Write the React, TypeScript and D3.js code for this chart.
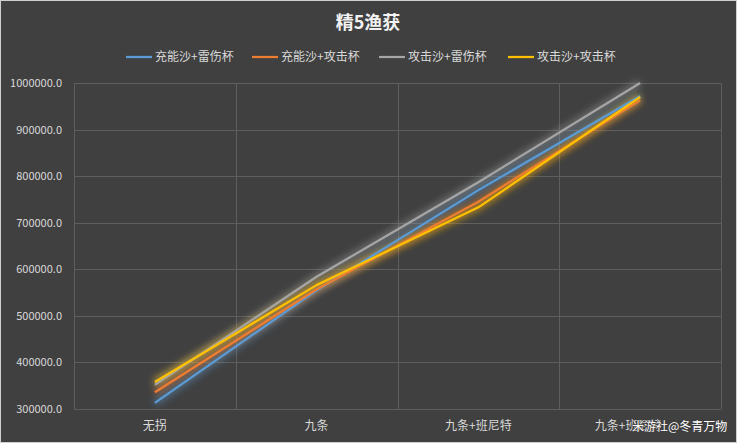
import React from "react";
import * as d3 from "d3";

const categories = ["无拐", "九条", "九条+班尼特", "九条+班尼特"];
const seriesNames = ["充能沙+雷伤杯", "充能沙+攻击杯", "攻击沙+雷伤杯", "攻击沙+攻击杯"];
const seriesColors = ["#5b9bd5", "#ed7d31", "#a5a5a5", "#ffc000"];
const blueValues = [313000, 555000, 770000, 972000];
const orangeValues = [336000, 557000, 745000, 963000];
const grayValues = [352000, 584000, 787000, 1000000];
const yellowValues = [358000, 566000, 733000, 970000];
const seriesValues = [blueValues, orangeValues, grayValues, yellowValues];
const yTicks = [300000, 400000, 500000, 600000, 700000, 800000, 900000, 1000000];
const title = "精5渔获";
const watermark = "米游社@冬青万物";

const W = 737;
const H = 443;
const left = 74;
const right = 721;
const top = 83;
const bottom = 409;
const font = "'Noto Sans CJK SC', 'Noto Sans', sans-serif";

export default function App() {
  const x = d3.scaleBand<number>().domain(categories.map((_, i) => i)).range([left, right]).padding(0);
  const y = d3.scaleLinear().domain([300000, 1000000]).range([bottom, top]);
  const line = d3
    .line<number>()
    .x((_, i) => (x(i) as number) + x.bandwidth() / 2)
    .y((v) => y(v));
  const vLines = [...categories.map((_, i) => x(i) as number), right];
  const legendX = [126, 252, 379, 508];

  return (
    <div style={{ position: "fixed", left: 0, top: 0 }}>
      <svg width={W} height={H} style={{ display: "block" }}>
        <defs>
          <filter id="glow" x="-20%" y="-20%" width="140%" height="140%">
            <feGaussianBlur stdDeviation="3.5" />
          </filter>
        </defs>
        <rect x={0.5} y={0.5} width={W - 1} height={H - 1} fill="#404040" stroke="#cfcfcf" strokeWidth={1} />
        {yTicks.map((t) => (
          <line key={"h" + t} x1={left} x2={right} y1={Math.round(y(t)) + 0.5} y2={Math.round(y(t)) + 0.5} stroke="#5e5e5e" strokeWidth={1} />
        ))}
        {vLines.map((v, i) => (
          <line key={"v" + i} x1={Math.round(v) + 0.5} x2={Math.round(v) + 0.5} y1={top} y2={bottom} stroke="#5e5e5e" strokeWidth={1} />
        ))}
        {yTicks.map((t) => (
          <text key={"yl" + t} x={62} y={y(t) + 4} textAnchor="end" fontSize={11} fill="#d9d9d9" fontFamily={font}>
            {t.toFixed(1)}
          </text>
        ))}
        {categories.map((c, i) => (
          <text
            key={"xl" + i}
            x={(x(i) as number) + x.bandwidth() / 2 + (i === categories.length - 1 ? -12 : 0)}
            y={430}
            textAnchor="middle"
            fontSize={12}
            fill="#d9d9d9"
            fontFamily={font}
          >
            {c}
          </text>
        ))}
        {seriesValues.map((vals, si) => (
          <path key={"g" + si} d={line(vals) || ""} fill="none" stroke={seriesColors[si]} strokeWidth={7} strokeOpacity={0.45} filter="url(#glow)" />
        ))}
        {seriesValues.map((vals, si) => (
          <path key={"s" + si} d={line(vals) || ""} fill="none" stroke={seriesColors[si]} strokeWidth={2.25} strokeLinejoin="round" />
        ))}
        <text x={368} y={29} textAnchor="middle" fontSize={18} fontWeight="bold" fill="#f2f2f2" fontFamily={font}>
          {title}
        </text>
        {seriesNames.map((n, i) => (
          <g key={"lg" + i}>
            <line x1={legendX[i]} x2={legendX[i] + 26} y1={57} y2={57} stroke={seriesColors[i]} strokeWidth={2.25} />
            <text x={legendX[i] + 29} y={61} fontSize={12} fill="#d9d9d9" fontFamily={font}>
              {n}
            </text>
          </g>
        ))}
        <text x={632} y={431} fontSize={12} fill="#ffffff" fontFamily={font} style={{ paintOrder: "stroke" }} stroke="#3a3a3a" strokeWidth={1}>
          {watermark}
        </text>
      </svg>
    </div>
  );
}
